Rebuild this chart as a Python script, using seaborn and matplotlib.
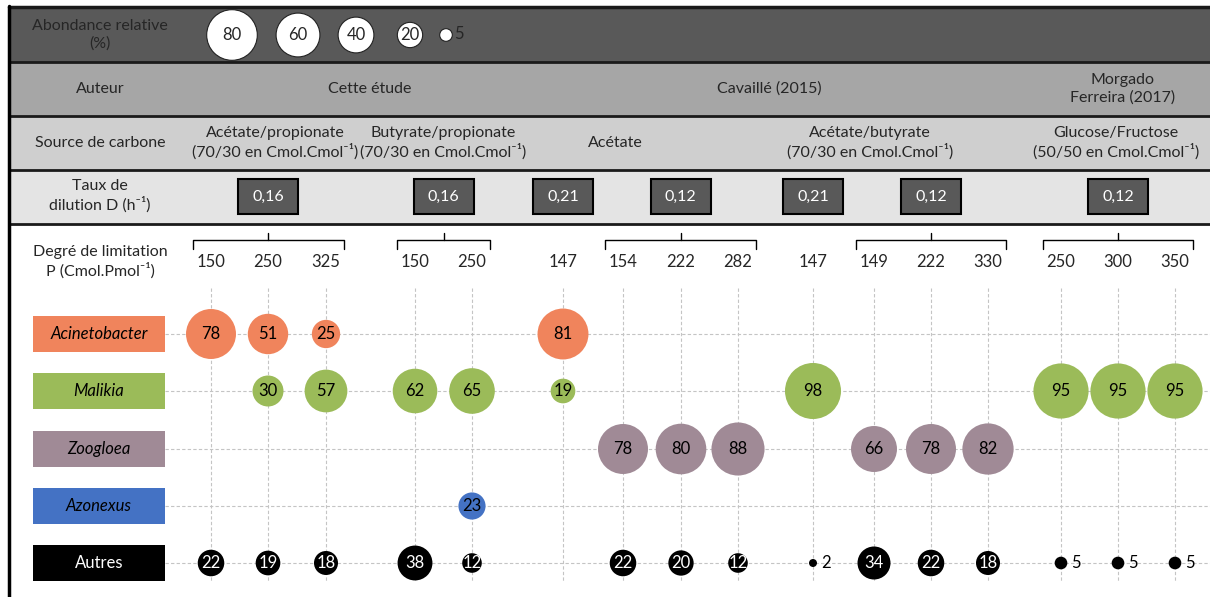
import pandas as pd
import matplotlib.pyplot as plt
import seaborn as sns
from matplotlib.patches import Rectangle

# ==============================
# Données
# ==============================
N = None
p_limitation = [150, 250, 325, 150, 250, 147, 154, 222, 282, 147, 149, 222, 330, 250, 300, 350]
dilution = ["0,16", "0,16", "0,21", "0,12", "0,21", "0,12", "0,12"]
dilution_groups = [[0, 1, 2], [3, 4], [5], [6, 7, 8], [9], [10, 11, 12], [13, 14, 15]]

genres = ["Acinetobacter", "Malikia", "Zoogloea", "Azonexus", "Autres"]
acinetobacter = [78, 51, 25, N, N, 81, N, N, N, N, N, N, N, N, N, N]
malikia = [N, 30, 57, 62, 65, 19, N, N, N, 98, N, N, N, 95, 95, 95]
zoogloea = [N, N, N, N, N, N, 78, 80, 88, N, 66, 78, 82, N, N, N]
azonexus = [N, N, N, N, 23, N, N, N, N, N, N, N, N, N, N, N]
autres = [22, 19, 18, 38, 12, N, 22, 20, 12, 2, 34, 22, 18, 5, 5, 5]

legende_abondance = [80, 60, 40, 20, 5]

auteurs = ["Cette étude", "Cavaillé (2015)", "Morgado\nFerreira (2017)"]
sources = ["Acétate/propionate\n(70/30 en Cmol.Cmol\u207b\u00b9)",
           "Butyrate/propionate\n(70/30 en Cmol.Cmol\u207b\u00b9)",
           "Acétate",
           "Acétate/butyrate\n(70/30 en Cmol.Cmol\u207b\u00b9)",
           "Glucose/Fructose\n(50/50 en Cmol.Cmol\u207b\u00b9)"]

couleurs = {"Acinetobacter": "#f0845c", "Malikia": "#9bbb59", "Zoogloea": "#a08a96",
            "Azonexus": "#4472c4", "Autres": "#000000"}

# ==============================
# Mise en page (pixels)
# ==============================
col_x = [211, 268, 326, 415, 472, 563, 623, 681, 738, 813, 874, 931, 988, 1061, 1118, 1175]
row_y = [334, 391, 449, 506, 563]
auteur_x = [370, 769, 1123]
source_x = [275, 443, 615, 870, 1116]
legende_x = [232, 298, 356, 410, 446]
bandes = [(7, 62, "#595959"), (62, 116, "#a6a6a6"), (116, 170, "#cfcfcf"), (170, 224, "#e4e4e4")]
K = 16.6  # aire du marqueur (pt^2) par % d'abondance


def rayon_px(v):
    # rayon en pixels d'une bulle (dpi 100)
    return (K * v) ** 0.5 / 2 * 100 / 72


series = [acinetobacter, malikia, zoogloea, azonexus, autres]
rows = []
for g, vals in zip(genres, series):
    for i, v in enumerate(vals):
        if v is not None:
            rows.append({"genre": g, "x": col_x[i], "y": row_y[genres.index(g)], "val": v})
df = pd.DataFrame(rows)

sns.set_style("white")
plt.rcParams["font.family"] = ["Lato", "DejaVu Sans"]

fig = plt.figure(figsize=(12.1, 5.97), dpi=100)
ax = fig.add_axes([0, 0, 1, 1])

# bandes d'en-tête
for y0, y1, c in bandes:
    ax.add_patch(Rectangle((9, y0), 1210, y1 - y0, facecolor=c, edgecolor="none", zorder=0))
for yl in [7, 62, 116, 170, 224]:
    ax.plot([9, 1210], [yl, yl], color="#1a1a1a", lw=2 if yl != 7 else 2.5, zorder=2)
ax.plot([9, 9], [6, 597], color="black", lw=2.5, zorder=2)

fs = 11.5
kw = dict(ha="center", va="center", fontsize=fs, linespacing=1.3, zorder=5)
ax.text(100, 35, "Abondance relative\n(%)", **kw)
ax.text(100, 89, "Auteur", **kw)
ax.text(100, 143, "Source de carbone", **kw)
ax.text(100, 196, "Taux de\ndilution D (h\u207b\u00b9)", **kw)
ax.text(100, 262, "Degré de limitation\nP (Cmol.Pmol\u207b\u00b9)", **kw)

for t, x in zip(auteurs, auteur_x):
    ax.text(x, 89, t, **kw)
for t, x in zip(sources, source_x):
    ax.text(x, 143, t, **kw)

# légende des tailles
leg = pd.DataFrame({"x": legende_x, "y": [35] * 5, "val": legende_abondance})
sns.scatterplot(data=leg, x="x", y="y", size="val", sizes=(0, K * 100), size_norm=(0, 100),
                color="white", edgecolor="#222222", linewidth=0.8, legend=False, ax=ax, zorder=4)
for x, v in zip(legende_x, legende_abondance):
    if v >= 10:
        ax.text(x, 35, str(v), ha="center", va="center", fontsize=12, zorder=5)
    else:
        ax.text(x + rayon_px(v) + 2, 34, str(v), ha="left", va="center", fontsize=12, zorder=5)

# taux de dilution
for d, grp in zip(dilution, dilution_groups):
    cx = sum(col_x[i] for i in grp) / len(grp)
    ax.add_patch(Rectangle((cx - 30, 179), 60, 35, facecolor="#595959", edgecolor="black",
                           lw=1.5, zorder=3))
    ax.text(cx, 196.5, d, ha="center", va="center", color="white", fontsize=11.5, zorder=5)

# accolades
for grp in dilution_groups:
    if len(grp) < 2:
        continue
    x0, x1 = col_x[grp[0]] - 18, col_x[grp[-1]] + 18
    cx = sum(col_x[i] for i in grp) / len(grp)
    ax.plot([x0, x0, x1, x1], [249, 240, 240, 249], color="black", lw=1, zorder=3)
    ax.plot([cx, cx], [240, 233], color="black", lw=1, zorder=3)

# degré de limitation
for x, p in zip(col_x, p_limitation):
    ax.text(x, 262, str(p), ha="center", va="center", fontsize=12, zorder=5)

# grille
for x in col_x:
    ax.plot([x, x], [288, 582], color="#c4c4c4", lw=0.8, ls=(0, (3, 2)), zorder=1)
for y in row_y:
    ax.plot([165, 1210], [y, y], color="#c4c4c4", lw=0.8, ls=(0, (3, 2)), zorder=1)

# étiquettes des genres
for g, y in zip(genres, row_y):
    ax.add_patch(Rectangle((33, y - 18), 132, 36, facecolor=couleurs[g], edgecolor="none", zorder=3))
    ax.text(99, y, g, ha="center", va="center", fontsize=12,
            color="white" if g == "Autres" else "black",
            style="normal" if g == "Autres" else "italic", zorder=5)

# bulles
sns.scatterplot(data=df, x="x", y="y", hue="genre", palette=couleurs, size="val",
                sizes=(0, K * 100), size_norm=(0, 100), edgecolor="none",
                legend=False, ax=ax, zorder=4)
for _, r in df.iterrows():
    tc = "white" if r["genre"] == "Autres" else "black"
    if r["val"] >= 10:
        ax.text(r["x"], r["y"], str(int(r["val"])), ha="center", va="center",
                fontsize=12, color=tc, zorder=5)
    else:
        ax.text(r["x"] + rayon_px(r["val"]) + 4, r["y"], str(int(r["val"])), ha="left",
                va="center", fontsize=12, color="black", zorder=5)

ax.set_xlim(0, 1210)
ax.set_ylim(597, 0)
ax.axis("off")

fig.savefig("out.png", dpi=100)
